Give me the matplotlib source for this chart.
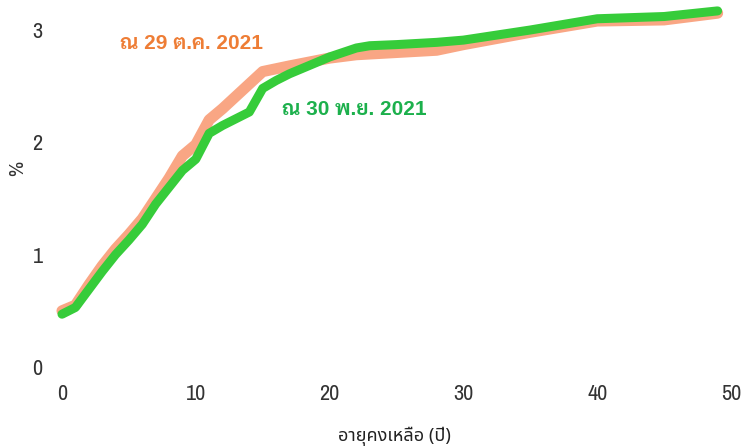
import matplotlib
matplotlib.use('Agg')
import matplotlib.pyplot as plt

# yield curve, remaining maturity (years) vs %
oct_years = [0, 1, 2, 3, 4, 5, 6, 7, 8, 9, 10, 11, 12, 13, 14, 15, 17, 20, 22, 25, 28, 30, 35, 40, 45, 49]
oct_yield = [0.50, 0.55, 0.73, 0.90, 1.05, 1.18, 1.32, 1.50, 1.68, 1.88, 1.98, 2.20, 2.30, 2.41, 2.52, 2.63,
             2.68, 2.75, 2.78, 2.80, 2.82, 2.87, 2.98, 3.08, 3.09, 3.15]

nov_years = [0, 1, 2, 3, 4, 5, 6, 7, 8, 9, 10, 11, 12, 13, 14, 15, 16, 17, 18, 19, 20, 21, 22, 23, 25, 28,
             30, 35, 40, 45, 49]
nov_yield = [0.47, 0.53, 0.69, 0.85, 1.00, 1.13, 1.27, 1.45, 1.60, 1.75, 1.85, 2.08, 2.15, 2.21, 2.27, 2.48,
             2.55, 2.61, 2.66, 2.71, 2.76, 2.80, 2.84, 2.86, 2.87, 2.89, 2.91, 3.00, 3.10, 3.12, 3.17]

oct_label = 'ณ 29 ต.ค. 2021'
nov_label = 'ณ 30 พ.ย. 2021'
xticks = [0, 10, 20, 30, 40, 50]
yticks = [0, 1, 2, 3]

tick_font = ['Archivo Narrow', 'DejaVu Sans']
thai_font = ['Noto Sans Thai', 'DejaVu Sans']
bold_font = ['Liberation Sans', 'Sarabun', 'DejaVu Sans']

fig = plt.figure(figsize=(7.44, 4.48), dpi=100)
ax = fig.add_axes([62 / 744, 81 / 448, 669 / 744, 337 / 448])

ax.plot(oct_years, oct_yield, color='#F9A684', lw=8, solid_capstyle='round', solid_joinstyle='round',
        clip_on=False)
ax.plot(nov_years, nov_yield, color='#36CC3A', lw=6.5, solid_capstyle='round', solid_joinstyle='round',
        clip_on=False)

ax.text(4.33, 2.88, oct_label, color='#EE7D35', fontsize=15, fontweight='bold', family=bold_font, va='center')
ax.text(16.44, 2.29, nov_label, color='#1CB04C', fontsize=15, fontweight='bold', family=bold_font, va='center')

ax.set_xlim(0, 50)
ax.set_ylim(0, 3)
ax.set_xticks(xticks)
ax.set_yticks(yticks)
for s in ax.spines.values():
    s.set_visible(False)
ax.tick_params(length=0, labelsize=16, colors='#333333')
ax.tick_params(axis='y', pad=14)
ax.tick_params(axis='x', pad=12)
for t in ax.get_xticklabels() + ax.get_yticklabels():
    t.set_family(tick_font)

fig.text(394 / 744, 1 - 436 / 448, 'อายุคงเหลือ (ปี)', family=thai_font, fontsize=13, color='#222222',
         ha='center', va='center')
fig.text(18 / 744, 1 - 168 / 448, '%', family=tick_font, fontsize=15, color='#333333',
         ha='center', va='center', rotation=90)

fig.savefig('out.png', dpi=100)
